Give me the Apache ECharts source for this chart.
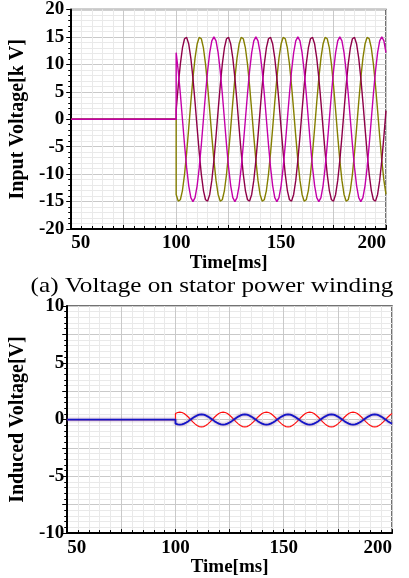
<!DOCTYPE html>
<html>
<head>
<meta charset="utf-8">
<script src="https://cdn.jsdelivr.net/npm/echarts@6/dist/echarts.min.js"></script>
<style>
html,body{margin:0;padding:0;background:#fff;}
#c{width:409px;height:578px;}
</style>
</head>
<body>
<div id="c"></div>
<script>
// ---- data ----
const preTime = [50, 100];
const preValsTop = [0, 0];
const preValsBottom = [0, 0];
const timeMs = [100,101,102,103,104,105,106,107,108,109,110,111,112,113,114,115,116,117,118,119,
120,121,122,123,124,125,126,127,128,129,130,131,132,133,134,135,136,137,138,139,
140,141,142,143,144,145,146,147,148,149,150,151,152,153,154,155,156,157,158,159,
160,161,162,163,164,165,166,167,168,169,170,171,172,173,174,175,176,177,178,179,
180,181,182,183,184,185,186,187,188,189,190,191,192,193,194,195,196,197,198,199,200];

// Input voltage [kV], three phases
const phaseMagenta = [12.14,8.82,4.64,0,-4.64,-8.82,-12.14,-14.27,-15,-14.27,-12.14,-8.82,-4.64,0,4.64,8.82,12.14,14.27,15,14.27,
12.14,8.82,4.64,0,-4.64,-8.82,-12.14,-14.27,-15,-14.27,-12.14,-8.82,-4.64,0,4.64,8.82,12.14,14.27,15,14.27,
12.14,8.82,4.64,0,-4.64,-8.82,-12.14,-14.27,-15,-14.27,-12.14,-8.82,-4.64,0,4.64,8.82,12.14,14.27,15,14.27,
12.14,8.82,4.64,0,-4.64,-8.82,-12.14,-14.27,-15,-14.27,-12.14,-8.82,-4.64,0,4.64,8.82,12.14,14.27,15,14.27,
12.14,8.82,4.64,0,-4.64,-8.82,-12.14,-14.27,-15,-14.27,-12.14,-8.82,-4.64,0,4.64,8.82,12.14,14.27,15,14.27,12.14];
const phaseMaroon = [1.57,6.10,10.04,12.99,14.67,14.92,13.70,11.15,7.5,3.12,-1.57,-6.10,-10.04,-12.99,-14.67,-14.92,-13.70,-11.15,-7.5,-3.12,
1.57,6.10,10.04,12.99,14.67,14.92,13.70,11.15,7.5,3.12,-1.57,-6.10,-10.04,-12.99,-14.67,-14.92,-13.70,-11.15,-7.5,-3.12,
1.57,6.10,10.04,12.99,14.67,14.92,13.70,11.15,7.5,3.12,-1.57,-6.10,-10.04,-12.99,-14.67,-14.92,-13.70,-11.15,-7.5,-3.12,
1.57,6.10,10.04,12.99,14.67,14.92,13.70,11.15,7.5,3.12,-1.57,-6.10,-10.04,-12.99,-14.67,-14.92,-13.70,-11.15,-7.5,-3.12,
1.57,6.10,10.04,12.99,14.67,14.92,13.70,11.15,7.5,3.12,-1.57,-6.10,-10.04,-12.99,-14.67,-14.92,-13.70,-11.15,-7.5,-3.12,1.57];
const phaseOlive = [-13.70,-14.92,-14.67,-12.99,-10.04,-6.10,-1.57,3.12,7.5,11.15,13.70,14.92,14.67,12.99,10.04,6.10,1.57,-3.12,-7.5,-11.15,
-13.70,-14.92,-14.67,-12.99,-10.04,-6.10,-1.57,3.12,7.5,11.15,13.70,14.92,14.67,12.99,10.04,6.10,1.57,-3.12,-7.5,-11.15,
-13.70,-14.92,-14.67,-12.99,-10.04,-6.10,-1.57,3.12,7.5,11.15,13.70,14.92,14.67,12.99,10.04,6.10,1.57,-3.12,-7.5,-11.15,
-13.70,-14.92,-14.67,-12.99,-10.04,-6.10,-1.57,3.12,7.5,11.15,13.70,14.92,14.67,12.99,10.04,6.10,1.57,-3.12,-7.5,-11.15,
-13.70,-14.92,-14.67,-12.99,-10.04,-6.10,-1.57,3.12,7.5,11.15,13.70,14.92,14.67,12.99,10.04,6.10,1.57,-3.12,-7.5,-11.15,-13.70];

// Induced voltage [V]
const inducedRed = [0.53,0.62,0.65,0.62,0.53,0.38,0.20,0,-0.20,-0.38,-0.53,-0.62,-0.65,-0.62,-0.53,-0.38,-0.20,0,0.20,0.38,
0.53,0.62,0.65,0.62,0.53,0.38,0.20,0,-0.20,-0.38,-0.53,-0.62,-0.65,-0.62,-0.53,-0.38,-0.20,0,0.20,0.38,
0.53,0.62,0.65,0.62,0.53,0.38,0.20,0,-0.20,-0.38,-0.53,-0.62,-0.65,-0.62,-0.53,-0.38,-0.20,0,0.20,0.38,
0.53,0.62,0.65,0.62,0.53,0.38,0.20,0,-0.20,-0.38,-0.53,-0.62,-0.65,-0.62,-0.53,-0.38,-0.20,0,0.20,0.38,
0.53,0.62,0.65,0.62,0.53,0.38,0.20,0,-0.20,-0.38,-0.53,-0.62,-0.65,-0.62,-0.53,-0.38,-0.20,0,0.20,0.38,0.53];
const inducedBlue = [-0.36,-0.43,-0.45,-0.43,-0.36,-0.26,-0.14,0,0.14,0.26,0.36,0.43,0.45,0.43,0.36,0.26,0.14,0,-0.14,-0.26,
-0.36,-0.43,-0.45,-0.43,-0.36,-0.26,-0.14,0,0.14,0.26,0.36,0.43,0.45,0.43,0.36,0.26,0.14,0,-0.14,-0.26,
-0.36,-0.43,-0.45,-0.43,-0.36,-0.26,-0.14,0,0.14,0.26,0.36,0.43,0.45,0.43,0.36,0.26,0.14,0,-0.14,-0.26,
-0.36,-0.43,-0.45,-0.43,-0.36,-0.26,-0.14,0,0.14,0.26,0.36,0.43,0.45,0.43,0.36,0.26,0.14,0,-0.14,-0.26,
-0.36,-0.43,-0.45,-0.43,-0.36,-0.26,-0.14,0,0.14,0.26,0.36,0.43,0.45,0.43,0.36,0.26,0.14,0,-0.14,-0.26,-0.36];

const xTicksLabeled = [50, 100, 150, 200];
const yTopLabeled = [20, 15, 10, 5, 0, -5, -10, -15, -20];
const yBottomLabeled = [10, 5, 0, -5, -10];
const captionText = '(a) Voltage on stator power winding';

// ---- build ----
function pairs(pre, preV, t, v) {
  const out = pre.map((x, i) => [x, preV[i]]);
  t.forEach((x, i) => out.push([x, v[i]]));
  return out;
}
const FONT = 'Liberation Serif';
function xAxisCfg(gridIndex, nameGap) {
  return {
    type: 'value', gridIndex, min: 50, max: 200, interval: 25,
    name: 'Time[ms]', nameLocation: 'middle', nameGap,
    nameTextStyle: { fontFamily: FONT, fontWeight: 'bold', fontSize: 19, color: '#000' },
    axisLine: { show: true, onZero: false, lineStyle: { color: '#000', width: 2 } },
    axisTick: { show: true, inside: true, length: 4, lineStyle: { color: '#000' } },
    minorTick: { show: true, splitNumber: 5, length: 3, lineStyle: { color: '#000' } },
    axisLabel: {
      fontFamily: FONT, fontWeight: 'bold', fontSize: 19, color: '#000', margin: 5,
      alignMinLabel: 'left', alignMaxLabel: 'right',
      formatter: v => xTicksLabeled.includes(v) ? String(v) : ''
    },
    splitLine: { show: true, lineStyle: { color: '#c9c9c9', width: 1 } },
    minorSplitLine: { show: true, lineStyle: { color: '#e9e9e9', width: 1 } }
  };
}
function yAxisCfg(gridIndex, min, max, interval, name, nameGap, labeled, margin) {
  return {
    type: 'value', gridIndex, min, max, interval,
    name, nameLocation: 'middle', nameGap, nameRotate: 90,
    nameTextStyle: { fontFamily: FONT, fontWeight: 'bold', fontSize: 20, color: '#000' },
    axisLine: { show: true, onZero: false, lineStyle: { color: '#000', width: 2 } },
    axisTick: { show: true, inside: false, length: 5, lineStyle: { color: '#000' } },
    minorTick: { show: true, splitNumber: 5, length: 3, lineStyle: { color: '#000' } },
    axisLabel: {
      fontFamily: FONT, fontWeight: 'bold', fontSize: 19, color: '#000', margin,
      formatter: v => labeled.includes(v) ? String(v) : ''
    },
    splitLine: { show: true, lineStyle: { color: '#c9c9c9', width: 1 } },
    minorSplitLine: { show: true, lineStyle: { color: '#e9e9e9', width: 1 } }
  };
}
function lineSeries(xi, yi, data, color, width, z, extra) {
  return Object.assign({
    type: 'line', xAxisIndex: xi, yAxisIndex: yi, data, showSymbol: false, symbol: 'none',
    animation: false, z, lineStyle: { color, width }, itemStyle: { color }
  }, extra || {});
}

const chart = echarts.init(document.getElementById('c'), null, { renderer: 'canvas' });
chart.setOption({
  backgroundColor: '#fff',
  animation: false,
  grid: [
    { left: 70, top: 8, right: 23, bottom: 349, show: true, borderColor: '#444', borderWidth: 1.5, backgroundColor: '#fff' },
    { left: 62, top: 306, right: 17, bottom: 41, show: true, borderColor: '#444', borderWidth: 1.5, backgroundColor: '#fff' }
  ],
  xAxis: [xAxisCfg(0, 19), xAxisCfg(1, 21)],
  yAxis: [
    yAxisCfg(0, -20, 20, 5, 'Input Voltage[k V]', 38, yTopLabeled, 7),
    yAxisCfg(1, -10, 10, 2.5, 'Induced Voltage[V]', 37, yBottomLabeled, 3)
  ],
  series: [
    lineSeries(0, 0, pairs(preTime, preValsTop, timeMs, phaseOlive), '#857f00', 1.4, 3),
    lineSeries(0, 0, pairs(preTime, preValsTop, timeMs, phaseMaroon), '#8e0048', 1.4, 4),
    lineSeries(0, 0, pairs(preTime, preValsTop, timeMs, phaseMagenta), '#c400a8', 1.4, 5),
    lineSeries(1, 1, pairs(preTime, preValsBottom, timeMs, inducedRed), '#ff1010', 1.2, 3),
    lineSeries(1, 1, pairs(preTime, preValsBottom, timeMs, inducedBlue), '#1414c8', 1.8, 4,
      { lineStyle: { color: '#1414c8', width: 1.8, shadowColor: 'rgba(130,80,140,0.8)', shadowBlur: 3 } })
  ],
  graphic: [
    { type: 'text', x: 212, y: 286, scaleX: 1.2, z: 10,
      style: { text: captionText, font: '21px "Liberation Serif"', fill: '#000', textAlign: 'center', textVerticalAlign: 'middle' } }
  ]
});
</script>
</body>
</html>
